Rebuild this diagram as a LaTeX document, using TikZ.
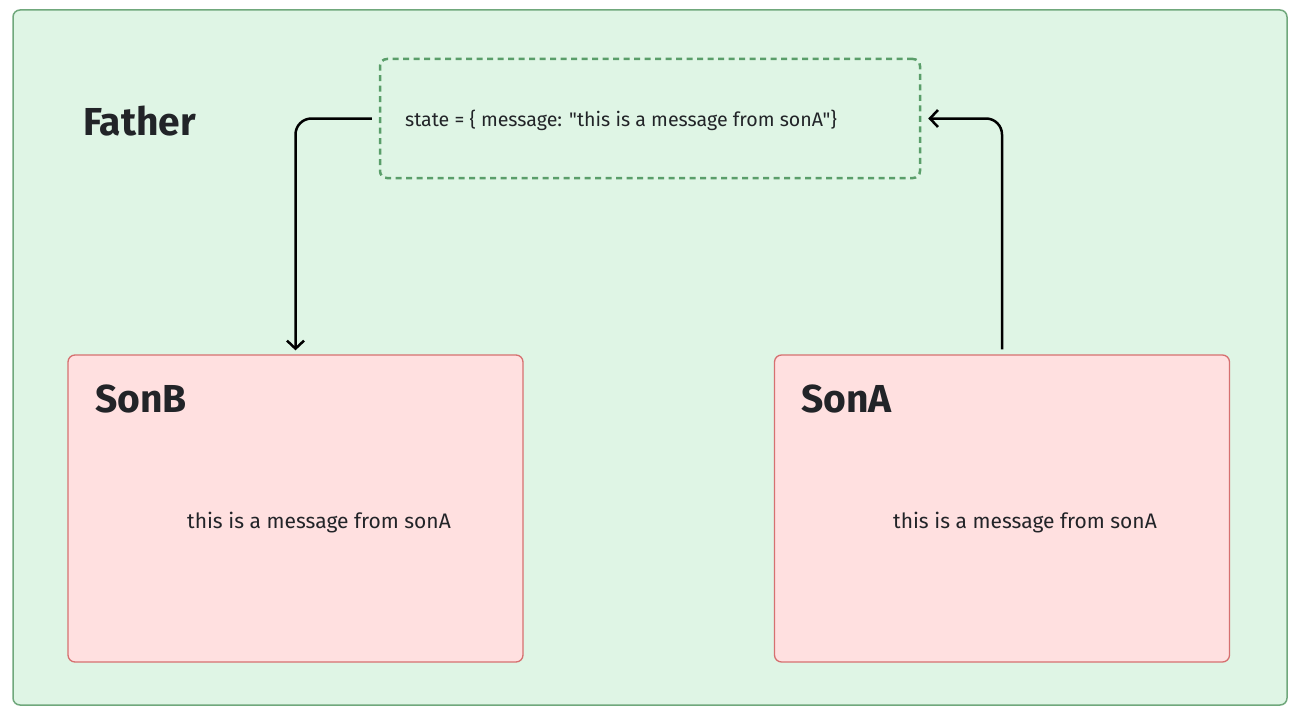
\documentclass[tikz,border=0pt]{standalone}
\usepackage{fontspec}
\setmainfont{Fira Sans}[Ligatures=TeXOff]
\usetikzlibrary{arrows.meta}
\definecolor{outerfill}{RGB}{223,245,229}
\definecolor{outerline}{RGB}{112,168,124}
\definecolor{statedash}{RGB}{90,158,106}
\definecolor{sonfill}{RGB}{255,224,224}
\definecolor{sonline}{RGB}{214,112,112}
\definecolor{txt}{RGB}{34,36,40}
\tikzset{
  outerbox/.style={draw=outerline, fill=outerfill, line width=1.5pt, rounded corners=7pt},
  statebox/.style={draw=statedash, line width=2.5pt, dash pattern=on 6pt off 4.5pt, rounded corners=7pt, minimum width=540pt, minimum height=119pt, inner sep=0pt},
  sonbox/.style={draw=sonline, fill=sonfill, line width=1.3pt, rounded corners=7pt, minimum width=455pt, minimum height=307pt, inner sep=0pt},
  title/.style={font=\fontsize{39}{42}\selectfont\bfseries, text=txt, anchor=base west, inner sep=0pt},
  msg/.style={font=\fontsize{21}{24}\selectfont, text=txt, inner sep=0pt},
  conn/.style={line width=2.5pt, rounded corners=16pt, -{Straight Barb[length=8pt,width=17pt,line width=2.5pt]}}
}
\begin{document}
\begin{tikzpicture}[x=1pt,y=-1pt]
\useasboundingbox (0,0) rectangle (1301,717);
\fill[white] (0,0) rectangle (1301,717);
\node[outerbox, minimum width=1274pt, minimum height=695pt, inner sep=0pt] (father) at (650,357.5) {};
\node[title] (fatherlbl) at (83,135) {Father};
\node[statebox] (state) at (650,118.5) {};
\node[msg, font=\fontsize{19.6}{22}\selectfont] (statetxt) at (621,120) {state = \{ message: "this is a message from sonA"\}};
\node[sonbox] (sonb) at (295.5,508.5) {};
\node[sonbox] (sona) at (1002,508.5) {};
\node[title] (sonblbl) at (95,412) {SonB};
\node[title] (sonalbl) at (801,412) {SonA};
\node[msg] (sonbmsg) at (319,523) {this is a message from sonA};
\node[msg] (sonamsg) at (1025,523) {this is a message from sonA};
\draw[conn] ([xshift=-7pt]state.west) -| ([yshift=4pt]sonb.north);
\draw[conn] ([yshift=5pt]sona.north) |- ([xshift=7pt]state.east);
\end{tikzpicture}
\end{document}
